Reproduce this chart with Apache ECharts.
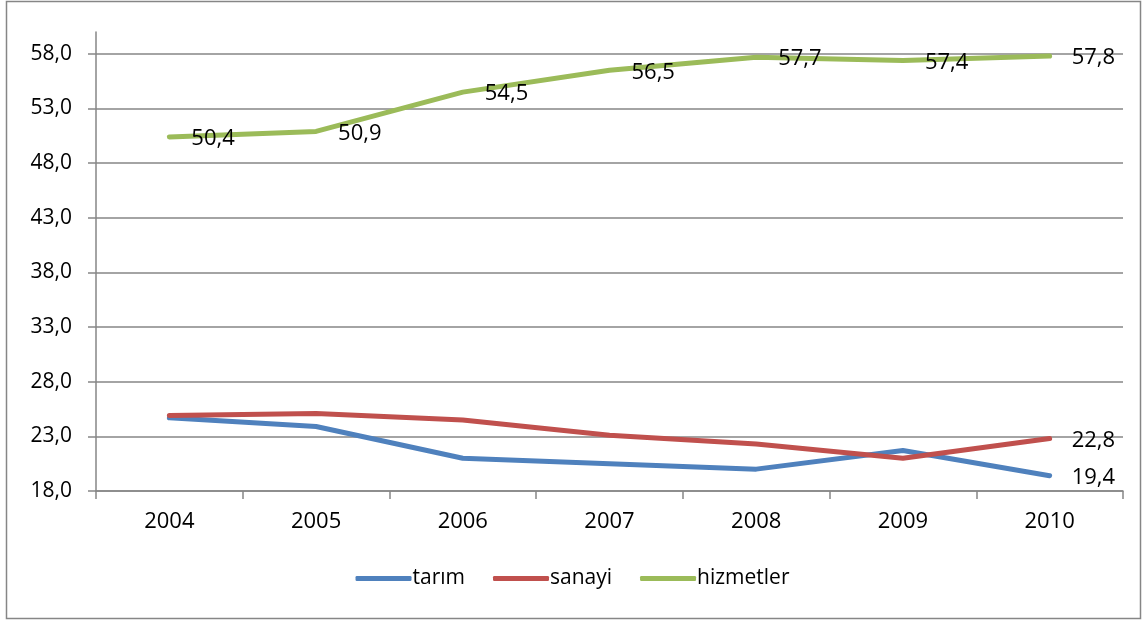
<!DOCTYPE html>
<html>
<head>
<meta charset="utf-8">
<script src="https://cdn.jsdelivr.net/npm/echarts@6/dist/echarts.min.js"></script>
<style>
  html, body { margin: 0; padding: 0; background: #fff; }
  #chart { width: 1145px; height: 621px; }
</style>
</head>
<body>
<div id="chart"></div>
<script>
const years = ["2004", "2005", "2006", "2007", "2008", "2009", "2010"];
const tarim = [24.7, 23.9, 21.0, 20.5, 20.0, 21.7, 19.4];
const sanayi = [24.9, 25.1, 24.5, 23.1, 22.3, 21.0, 22.8];
const hizmetler = [50.4, 50.9, 54.5, 56.5, 57.7, 57.4, 57.8];

const font = "'Open Sans', 'Noto Sans', sans-serif";
const comma = (v) => Number(v).toFixed(1).replace(".", ",");

// only the last point of tarım / sanayi gets a label
const lastOnly = (arr) => arr.map((v, i) => ({
  value: v,
  label: { show: i === arr.length - 1 }
}));

const labelStyle = {
  position: "right",
  distance: 22,
  offset: [0, 2],
  color: "#000",
  fontSize: 22,
  fontFamily: font,
  formatter: (p) => comma(p.value)
};

const chart = echarts.init(document.getElementById("chart"));
chart.setOption({
  animation: false,
  backgroundColor: "#fff",
  graphic: [{
    type: "rect",
    shape: { x: 6.5, y: 1.5, width: 1134, height: 617 },
    style: { fill: "none", stroke: "#868686", lineWidth: 1.5 },
    silent: true
  }],
  grid: { left: 96, right: 22, top: 32, bottom: 130 },
  legend: {
    bottom: 27,
    left: "center",
    itemWidth: 56,
    itemHeight: 5,
    itemGap: 28,
    icon: "roundRect",
    textStyle: { fontSize: 21, fontFamily: font, color: "#000", padding: [0, 0, 0, -4] },
    data: ["tarım", "sanayi", "hizmetler"]
  },
  xAxis: {
    type: "category",
    data: years,
    boundaryGap: true,
    axisLine: { lineStyle: { color: "#868686", width: 1.5 } },
    axisTick: { show: true, length: 8, lineStyle: { color: "#868686", width: 1.5 } },
    axisLabel: { color: "#000", fontSize: 22, fontFamily: font, margin: 20 }
  },
  yAxis: {
    type: "value",
    min: 18,
    max: 60,
    interval: 5,
    axisLine: { show: true, lineStyle: { color: "#868686", width: 1.5 } },
    axisTick: { show: true, length: 8, lineStyle: { color: "#868686", width: 1.5 } },
    axisLabel: {
      color: "#000", fontSize: 21, fontFamily: font, margin: 24,
      showMaxLabel: false,
      formatter: (v) => comma(v)
    },
    splitLine: { show: true, showMaxLine: false, lineStyle: { color: "#868686", width: 1.5 } }
  },
  series: [
    {
      name: "tarım", type: "line", data: lastOnly(tarim),
      symbol: "circle", symbolSize: 0, color: "#4F81BD",
      lineStyle: { width: 5, cap: "round" },
      label: labelStyle
    },
    {
      name: "sanayi", type: "line", data: lastOnly(sanayi),
      symbol: "circle", symbolSize: 0, color: "#C0504D",
      lineStyle: { width: 5, cap: "round" },
      label: labelStyle
    },
    {
      name: "hizmetler", type: "line", data: hizmetler,
      symbol: "circle", symbolSize: 0, color: "#9BBB59",
      lineStyle: { width: 5, cap: "round" },
      label: Object.assign({}, labelStyle, { show: true })
    }
  ]
});
</script>
</body>
</html>
